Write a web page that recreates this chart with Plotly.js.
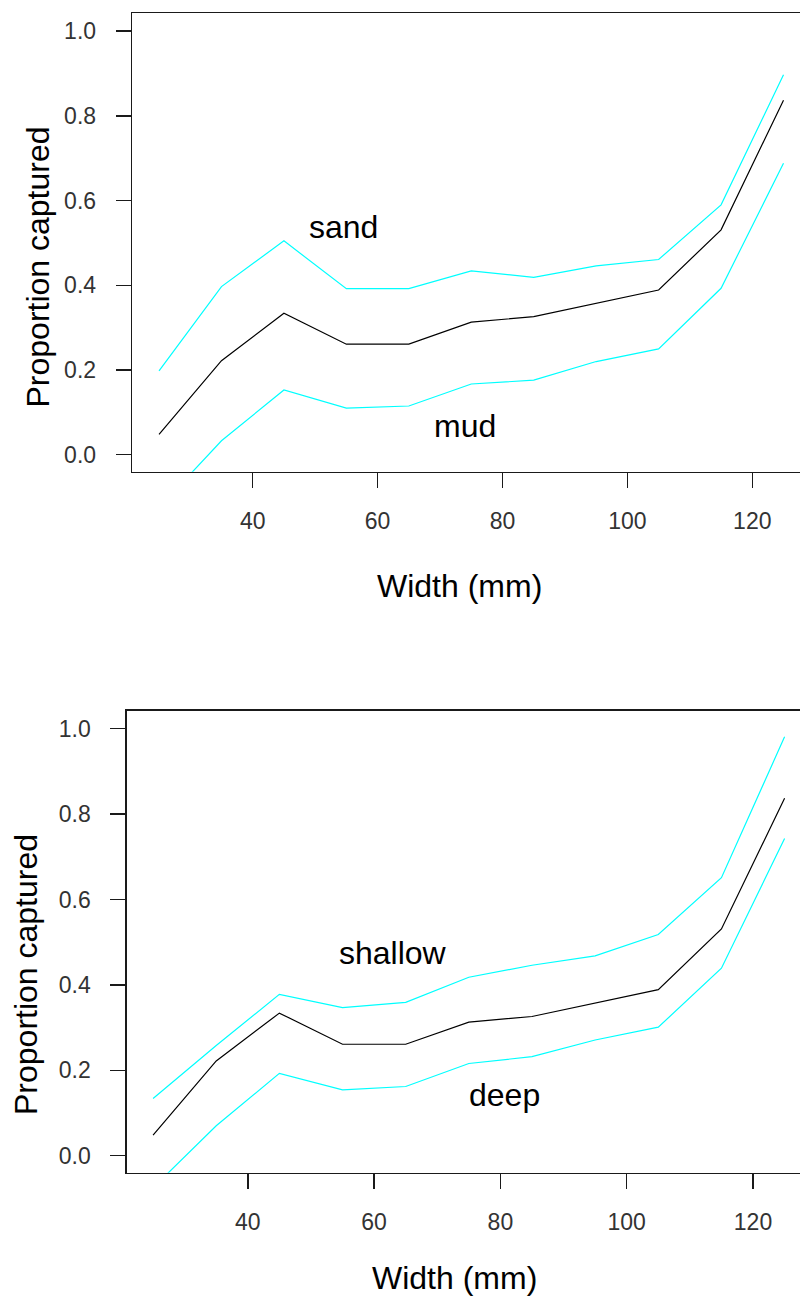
<!DOCTYPE html>
<html>
<head>
<meta charset="utf-8">
<script src="https://cdn.plot.ly/plotly-3.0.1.min.js"></script>
<style>html,body{margin:0;padding:0;background:#fff;}#chart{width:800px;height:1300px;}</style>
</head>
<body>
<div id="chart"></div>
<script>
// Data
const widths   = [25, 35, 45, 55, 65, 75, 85, 95, 105, 115, 125];
const fitted   = [0.048, 0.222, 0.334, 0.261, 0.261, 0.313, 0.326, 0.357, 0.389, 0.531, 0.837];
const sand     = [0.198, 0.397, 0.505, 0.392, 0.392, 0.434, 0.419, 0.446, 0.461, 0.590, 0.897];
const mud      = [-0.125, 0.033, 0.153, 0.110, 0.115, 0.167, 0.176, 0.220, 0.250, 0.393, 0.688];
const shallow  = [0.134, 0.258, 0.378, 0.347, 0.359, 0.418, 0.446, 0.468, 0.518, 0.651, 0.981];
const deep     = [-0.075, 0.070, 0.193, 0.154, 0.162, 0.216, 0.232, 0.271, 0.301, 0.439, 0.743];
const xTicks   = [40, 60, 80, 100, 120];
const yTicks   = [0, 0.2, 0.4, 0.6, 0.8, 1.0];
const xTitle   = "Width (mm)";
const yTitle   = "Proportion captured";
const topLabels    = [{text: "sand", x: 54.5, y: 0.538}, {text: "mud", x: 74, y: 0.068}];
const bottomLabels = [{text: "shallow", x: 63.0, y: 0.475}, {text: "deep", x: 80.7, y: 0.142}];

const W = 800, H = 1300;
const FONT = "Liberation Sans, Arial, sans-serif";
const CYAN = "#00ffff";

function line(x, y, color, xa, ya) {
  return {x: x, y: y, type: "scatter", mode: "lines", xaxis: xa, yaxis: ya,
          line: {color: color, width: 1.2}, hoverinfo: "skip"};
}

const traces = [
  line(widths, sand, CYAN, "x", "y"),
  line(widths, mud, CYAN, "x", "y"),
  line(widths, fitted, "#000000", "x", "y"),
  line(widths, shallow, CYAN, "x2", "y2"),
  line(widths, deep, CYAN, "x2", "y2"),
  line(widths, fitted, "#000000", "x2", "y2")
];

function xAxis(domain, range, anchor) {
  return {domain: domain, range: range, anchor: anchor,
          tickmode: "array", tickvals: xTicks, ticktext: xTicks.map(String),
          ticks: "outside", ticklen: 15, tickwidth: 1.5, tickcolor: "#1a1a1a",
          ticklabelstandoff: 13,
          showline: true, linecolor: "#1a1a1a", linewidth: 1.6, mirror: true,
          showgrid: false, zeroline: false,
          tickfont: {family: FONT, size: 23, color: "#333"}};
}
function yAxis(domain, range, anchor) {
  return {domain: domain, range: range, anchor: anchor,
          tickmode: "array", tickvals: yTicks, ticktext: yTicks.map(v => v.toFixed(1)),
          ticks: "outside", ticklen: 15, tickwidth: 1.5, tickcolor: "#1a1a1a",
          ticklabelstandoff: 15,
          showline: true, linecolor: "#1a1a1a", linewidth: 1.6, mirror: false,
          showgrid: false, zeroline: false,
          tickfont: {family: FONT, size: 23, color: "#333"}};
}

const annotations = [];
function title(text, px, py, angle) {
  annotations.push({text: text, xref: "paper", yref: "paper", x: px / W, y: 1 - py / H,
                    xanchor: "center", yanchor: "middle", showarrow: false, textangle: angle,
                    font: {family: FONT, size: 32, color: "#000"}});
}
title(yTitle, 37.5, 267, -90);
title(xTitle, 460, 586, 0);
title(yTitle, 26, 975, -90);
title(xTitle, 454, 1278, 0);
topLabels.forEach(l => annotations.push({text: l.text, x: l.x, y: l.y, xref: "x", yref: "y",
  showarrow: false, xanchor: "center", yanchor: "middle", font: {family: FONT, size: 32, color: "#000"}}));
bottomLabels.forEach(l => annotations.push({text: l.text, x: l.x, y: l.y, xref: "x2", yref: "y2",
  showarrow: false, xanchor: "center", yanchor: "middle", font: {family: FONT, size: 32, color: "#000"}}));

const layout = {
  width: W, height: H,
  margin: {l: 0, r: 0, t: 0, b: 0, pad: 0},
  paper_bgcolor: "#ffffff", plot_bgcolor: "#ffffff",
  showlegend: false,
  xaxis: xAxis([132.3 / W, 1], [20.72, 127.64], "y"),
  yaxis: yAxis([1 - 471.7 / H, 1 - 13.3 / H], [-0.0401, 1.0423], "x"),
  xaxis2: xAxis([127 / W, 1], [20.87, 127.44], "y2"),
  yaxis2: yAxis([1 - 1172.7 / H, 1 - 711 / H], [-0.0398, 1.0415], "x2"),
  annotations: annotations
};

Plotly.newPlot("chart", traces, layout, {displayModeBar: false, staticPlot: true});
</script>
</body>
</html>
